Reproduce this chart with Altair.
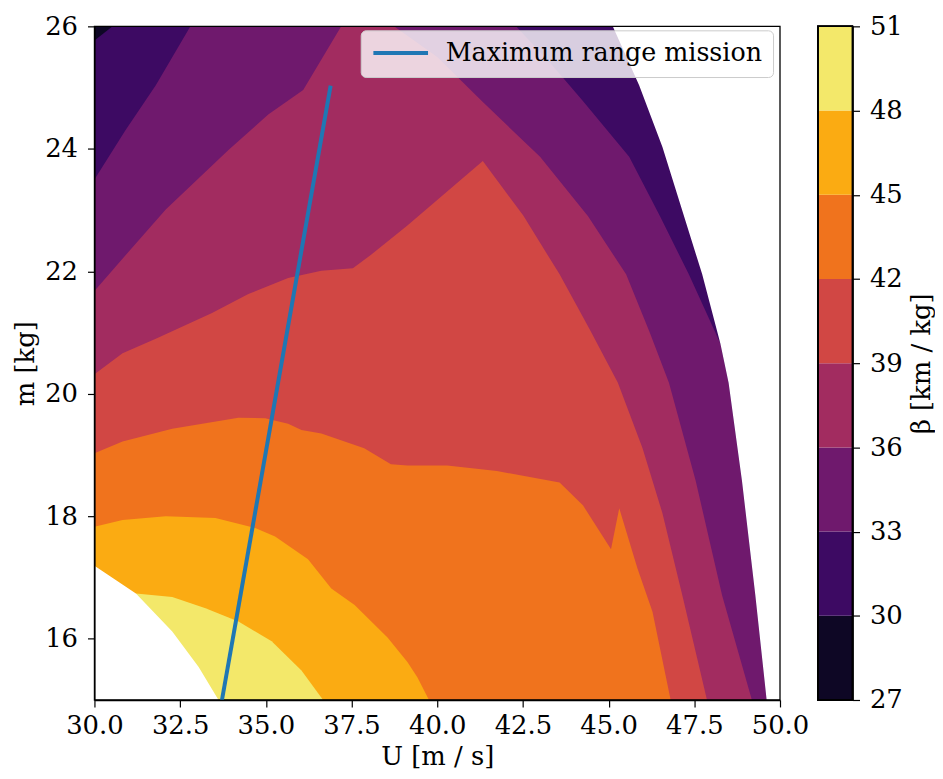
import altair as alt
import pandas as pd

FONT = "DejaVu Serif"
FS = 26

# contour levels (beta, km/kg) and inferno band colours
levels = [27, 30, 33, 36, 39, 42, 45, 48, 51]
band_colors = ["#0e0725", "#3d0a63", "#6f196d", "#a22c60",
               "#d14744", "#f0731d", "#fbab12", "#f3e86a"]

# boundary curves: region "beta >= level" lies below each curve (U in m/s, m in kg)
b27_U = [30.0, 50.0]
b27_m = [26.0, 26.0]
b30_U = [30.0, 30.53, 50.0]
b30_m = [25.77, 26.0, 26.0]
b33_U = [30.0, 30.9, 31.79, 32.8, 42.3, 43.3, 44.25, 45.6, 46.5, 47.34, 48.26, 48.5, 48.89, 49.28, 49.61]
b33_m = [23.5, 24.3, 25.04, 26.0, 26.0, 25.4, 24.78, 23.87, 22.9, 21.95, 20.82, 20.18, 18.58, 16.71, 15.0]
b36_U = [30.0, 30.92, 32.08, 33.91, 35.07, 36.09, 37.2, 38.74, 40.0, 41.3, 43.0, 44.4, 45.51, 46.2, 46.76, 47.54, 48.31, 49.18]
b36_m = [21.68, 22.27, 23.01, 23.98, 24.56, 24.96, 26.0, 26.0, 25.5, 24.78, 23.87, 22.9, 21.95, 21.0, 20.18, 18.58, 16.71, 15.0]
b39_U = [30.0, 30.82, 31.79, 33.43, 34.49, 35.65, 36.62, 37.54, 38.07, 39.13, 41.33, 42.51, 43.57, 44.45, 45.27, 45.99, 46.57, 47.15, 47.87]
b39_m = [20.32, 20.66, 20.9, 21.32, 21.63, 21.89, 22.01, 22.05, 22.27, 22.75, 23.8, 22.91, 21.95, 21.05, 20.18, 19.11, 18.05, 16.71, 15.0]
b42_U = [30.0, 30.82, 32.27, 34.2, 34.98, 35.65, 36.04, 36.62, 37.87, 38.65, 39.13, 40.29, 41.74, 43.57, 44.25, 45.07, 45.31, 45.84, 46.28, 46.81]
b42_m = [19.03, 19.22, 19.43, 19.61, 19.6, 19.51, 19.41, 19.35, 19.11, 18.85, 18.83, 18.83, 18.74, 18.55, 18.18, 17.46, 18.13, 17.15, 16.44, 15.0]
b45_U = [30.0, 30.82, 32.08, 33.53, 34.69, 35.27, 36.23, 36.91, 37.59, 38.55, 39.13, 39.42, 39.76]
b45_m = [17.83, 17.94, 18.0, 17.97, 17.81, 17.67, 17.3, 16.82, 16.55, 16.02, 15.62, 15.37, 15.0]
b48_U = [31.21, 32.27, 33.24, 34.2, 35.17, 36.04, 36.67]
b48_m = [16.74, 16.68, 16.5, 16.28, 15.96, 15.48, 15.0]

# infeasible (no data) regions
nanL_U = [29.9, 30.0, 31.21, 32.27, 33.04, 33.62]
nanL_m = [17.23, 17.19, 16.74, 16.12, 15.54, 15.0]
nanR_U = [45.12, 45.89, 46.57, 47.73, 48.26, 48.5, 48.89, 49.28, 49.61, 50.1]
nanR_m = [26.0, 25.04, 24.03, 21.95, 20.82, 20.18, 18.58, 16.71, 15.0, 15.0]

# maximum range mission line
mission_U = [33.72, 36.88]
mission_m = [15.0, 25.0]
mission_name = "Maximum range mission"

x_ticks = [30.0, 32.5, 35.0, 37.5, 40.0, 42.5, 45.0, 47.5, 50.0]
y_ticks = [16, 18, 20, 22, 24, 26]

W, H = 690, 678

xs = alt.Scale(domain=[30, 50], nice=False, zero=False)
ys = alt.Scale(domain=[15, 26], nice=False, zero=False)
xaxis = alt.Axis(title="U [m / s]", values=x_ticks, format=".1f", labelFlush=False,
                 labelPadding=6, titlePadding=5, zindex=1)
yaxis = alt.Axis(title="m [kg]", values=y_ticks, format="d", labelFlush=False,
                 labelPadding=10, titlePadding=6, zindex=1)

bands = [(b27_U, b27_m), (b30_U, b30_m), (b33_U, b33_m), (b36_U, b36_m),
         (b39_U, b39_m), (b42_U, b42_m), (b45_U, b45_m), (b48_U, b48_m)]


def enc(chart, y2):
    return chart.encode(
        x=alt.X("U:Q", scale=xs, axis=xaxis),
        y=alt.Y("m:Q", scale=ys, axis=yaxis),
        y2=y2,
    )


layers = []
for (U, m), col in zip(bands, band_colors):
    df = pd.DataFrame({"U": U, "m": m})
    layers.append(enc(alt.Chart(df).mark_area(color=col, clip=True), alt.datum(15)))

nanL = pd.DataFrame({"U": nanL_U, "m": nanL_m})
layers.append(enc(alt.Chart(nanL).mark_area(color="white", clip=True), alt.datum(14.9)))
nanR = pd.DataFrame({"U": nanR_U, "m": nanR_m})
layers.append(enc(alt.Chart(nanR).mark_area(color="white", clip=True), alt.datum(26.1)))

# plot frame drawn above the filled contours
layers.append(
    alt.Chart(pd.DataFrame({"f": [0]})).mark_rect(
        fillOpacity=0, stroke="black", strokeWidth=1.3
    ).encode(x=alt.value(0), x2=alt.value(W), y=alt.value(0), y2=alt.value(H))
)

mission = pd.DataFrame({"U": mission_U, "m": mission_m, "series": [mission_name] * 2})
layers.append(
    alt.Chart(mission).mark_line(strokeWidth=4, clip=True, strokeCap="square").encode(
        x=alt.X("U:Q", scale=xs, axis=xaxis),
        y=alt.Y("m:Q", scale=ys, axis=yaxis),
        stroke=alt.Stroke(
            "series:N",
            scale=alt.Scale(domain=[mission_name], range=["#1f77b4"]),
            legend=alt.Legend(
                title=None, orient="none", legendX=268, legendY=4,
                fillColor="rgba(255,255,255,0.8)", strokeColor="#cccccc",
                cornerRadius=5, padding=10,
                symbolType="M-1,0H4.5", symbolSize=400,
                symbolStrokeWidth=4, labelOffset=50,
                labelLimit=0, labelFont=FONT, labelFontSize=25.5, labelColor="black",
            ),
        ),
    )
)

main = alt.layer(*layers)

# colour bar, drawn to the right of the plot with its own beta scale
cb = pd.DataFrame({"lo": levels[:-1], "hi": levels[1:]})
CB_X0, CB_X1 = 728, 763
cbar_rects = alt.Chart(cb).mark_rect().encode(
    x=alt.value(CB_X0),
    x2=alt.value(CB_X1),
    y=alt.Y("lo:Q", scale=alt.Scale(domain=[27, 51], nice=False, zero=False),
            axis=alt.Axis(orient="right", offset=CB_X1 - W, values=levels, format="d",
                          title="β [km / kg]", titleAngle=270, titleBaseline="top",
                          labelFlush=False, labelPadding=10, titlePadding=6)),
    y2="hi:Q",
    color=alt.Color("lo:O", scale=alt.Scale(domain=levels[:-1], range=band_colors), legend=None),
)
cbar_frame = alt.Chart(cb).mark_rect(fillOpacity=0, stroke="black", strokeWidth=1.2).encode(
    x=alt.value(CB_X0), x2=alt.value(CB_X1), y=alt.value(0), y2=alt.value(H)
)
cbar = alt.layer(cbar_rects, cbar_frame)

chart = alt.layer(main, cbar).resolve_scale(y="independent").resolve_axis(y="independent").properties(
    width=W, height=H,
    autosize=alt.AutoSizeParams(type="none"),
    padding={"left": 87, "top": 16, "right": 156, "bottom": 69},
).configure_view(stroke=None).configure_axis(
    grid=False, labelFont=FONT, labelFontSize=FS, labelColor="black",
    titleFont=FONT, titleFontSize=FS, titleFontWeight="normal", titleColor="black",
    tickSize=7, tickColor="black", tickWidth=1.2, domainColor="black", domainWidth=1.3,
)

chart.save("out.html", embed_options={"renderer": "svg", "actions": False})
